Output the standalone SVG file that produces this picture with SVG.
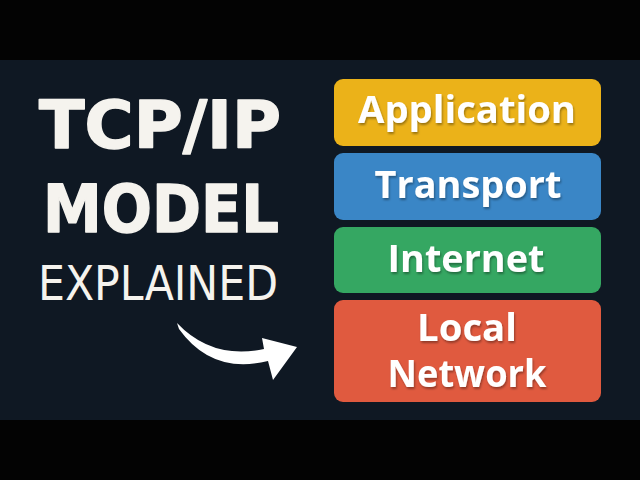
<svg xmlns="http://www.w3.org/2000/svg" width="640" height="480" viewBox="0 0 640 480">
<defs>
<style>
.title{font-family:"DejaVu Sans","Liberation Sans",sans-serif;font-weight:bold;fill:#F5F3EE;stroke:#F5F3EE;stroke-width:1.5;stroke-linejoin:round}
.sub{font-family:"DejaVu Sans Condensed","DejaVu Sans","Liberation Sans",sans-serif;font-weight:300;fill:#F5F3EE}
.lbl{font-family:"Open Sans","DejaVu Sans",sans-serif;font-weight:bold;font-size:37px;fill:#FFFFFF;text-anchor:middle;filter:url(#sh)}
</style>
<filter id="sh" x="-10%" y="-20%" width="120%" height="150%">
<feDropShadow dx="1" dy="2" stdDeviation="1.2" flood-color="#000" flood-opacity="0.35"/>
</filter>
</defs>
<rect x="0" y="0" width="640" height="480" fill="#030303"/>
<rect x="0" y="60" width="640" height="360" fill="#0F1823"/>
<g id="title">
<text class="title" x="39" y="148" font-size="65" textLength="242" lengthAdjust="spacingAndGlyphs">TCP/IP</text>
<text class="title" x="43" y="232" font-size="65" textLength="236" lengthAdjust="spacingAndGlyphs">MODEL</text>
<text class="sub" x="38" y="300" font-size="48" textLength="240" lengthAdjust="spacingAndGlyphs">EXPLAINED</text>
</g>
<g id="connectors">
<path d="M177,323 Q212,360 264,349 L262,338 L297,347 L273,380 L268,361 Q212,375 179,329 Z" fill="#FFFFFF"/>
</g>
<g id="application">
<rect x="334" y="79" width="267" height="67" rx="9" fill="#EBB219"/>
<text class="lbl" x="467" y="123" textLength="218" lengthAdjust="spacingAndGlyphs">Application</text>
</g>
<g id="transport">
<rect x="334" y="153" width="267" height="67" rx="9" fill="#3A86C6"/>
<text class="lbl" x="468" y="198" textLength="187" lengthAdjust="spacingAndGlyphs">Transport</text>
</g>
<g id="internet">
<rect x="334" y="227" width="267" height="66" rx="9" fill="#35A762"/>
<text class="lbl" x="466" y="272" textLength="157" lengthAdjust="spacingAndGlyphs">Internet</text>
</g>
<g id="local-network">
<rect x="334" y="300" width="267" height="102" rx="9" fill="#E05A3F"/>
<text class="lbl" x="467" y="341" textLength="100" lengthAdjust="spacingAndGlyphs">Local</text>
<text class="lbl" x="467" y="387" textLength="159" lengthAdjust="spacingAndGlyphs">Network</text>
</g>
</svg>
